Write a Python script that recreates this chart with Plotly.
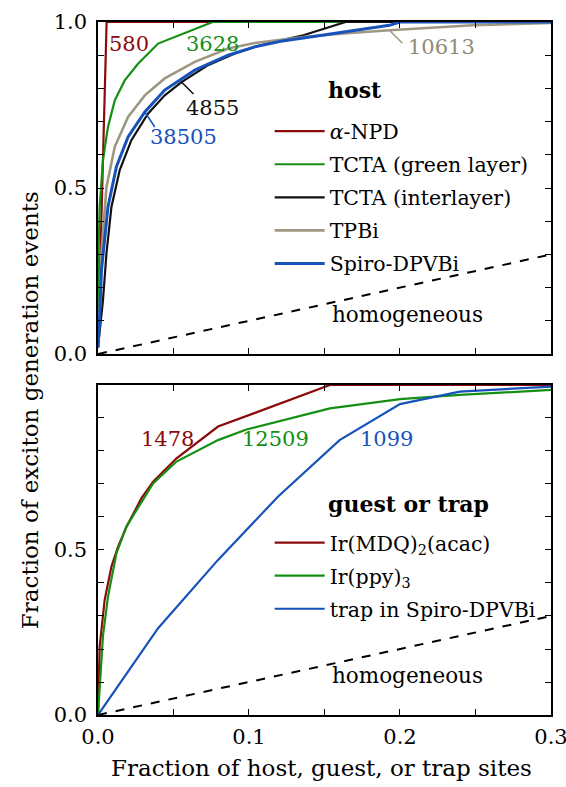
import plotly.graph_objects as go

# ---- host materials (upper panel) ----
npd_x = [0, 0.0057, 0.3]
npd_y = [0.02, 1.0, 1.0]

tcta_g_x = [0, 0.0003, 0.0011, 0.0033, 0.0066, 0.0111, 0.0177, 0.0265, 0.0398, 0.076, 0.3]
tcta_g_y = [0.02, 0.30, 0.443, 0.584, 0.684, 0.764, 0.824, 0.874, 0.935, 1.0, 1.0]

tcta_i_x = [0, 0.0015, 0.0033, 0.0056, 0.0089, 0.0144, 0.0221, 0.0331, 0.0442, 0.0553, 0.0729,
            0.0906, 0.1038, 0.121, 0.136, 0.164, 0.3]
tcta_i_y = [0.02, 0.08, 0.162, 0.303, 0.443, 0.554, 0.644, 0.724, 0.779, 0.819, 0.870,
            0.905, 0.925, 0.945, 0.960, 1.0, 1.0]

tpbi_x = [0, 0.001, 0.0023, 0.0056, 0.0111, 0.0199, 0.031, 0.0442, 0.0641, 0.0862, 0.1038,
          0.136, 0.165, 0.193, 0.248, 0.3]
tpbi_y = [0.02, 0.12, 0.303, 0.503, 0.624, 0.714, 0.779, 0.830, 0.880, 0.920, 0.937,
          0.955, 0.966, 0.975, 0.990, 0.997]

spiro_x = [0, 0.001, 0.0023, 0.0066, 0.0122, 0.0199, 0.031, 0.0442, 0.0641, 0.0862, 0.1038,
           0.121, 0.136, 0.165, 0.193, 0.2, 0.3]
spiro_y = [0.02, 0.10, 0.253, 0.443, 0.564, 0.654, 0.729, 0.795, 0.855, 0.900, 0.925,
           0.942, 0.952, 0.972, 0.990, 1.0, 1.0]

# ---- guests / traps (lower panel) ----
mdq_x = [0, 0.0011, 0.0044, 0.0089, 0.0133, 0.0188, 0.0288, 0.0365, 0.052, 0.0795, 0.1536, 0.3]
mdq_y = [0, 0.207, 0.348, 0.450, 0.510, 0.570, 0.657, 0.707, 0.778, 0.874, 1.0, 1.0]

ppy_x = [0, 0.0012, 0.0033, 0.0066, 0.0122, 0.0188, 0.0365, 0.052, 0.0795, 0.0983, 0.1536, 0.2, 0.2396, 0.3]
ppy_y = [0, 0.10, 0.24, 0.358, 0.490, 0.571, 0.702, 0.768, 0.833, 0.865, 0.929, 0.957, 0.970, 0.985]

trap_x = [0, 0.0398, 0.0795, 0.1193, 0.16, 0.2, 0.2396, 0.3]
trap_y = [0, 0.263, 0.470, 0.662, 0.833, 0.942, 0.980, 0.995]

homog_x = [0, 0.3]
homog_y = [0, 0.3]

x_ticks = [0, 0.1, 0.2, 0.3]
x_ticktext = ["0.0", "0.1", "0.2", "0.3"]

# site counts written next to the curves
host_counts = {"npd": "580", "tcta_g": "3628", "tcta_i": "4855", "tpbi": "10613", "spiro": "38505"}
guest_counts = {"mdq": "1478", "ppy": "12509", "trap": "1099"}

RED = "#8B0A0A"
GREEN = "#148F14"
BLACK = "#111111"
GRAY = "#9E9882"
BLUE = "#1652BA"

FONT = "DejaVu Serif"
LEG_SIZE = 20.5

fig = go.Figure()

host_series = [
    ("<i>α</i>-NPD", npd_x, npd_y, RED, 2.2),
    ("TCTA (green layer)", tcta_g_x, tcta_g_y, GREEN, 2.2),
    ("TCTA (interlayer)", tcta_i_x, tcta_i_y, BLACK, 2.2),
    ("TPBi", tpbi_x, tpbi_y, GRAY, 2.6),
    ("Spiro-DPVBi", spiro_x, spiro_y, BLUE, 3.0),
]
for k, (name, xs, ys, col, w) in enumerate(host_series):
    fig.add_trace(go.Scatter(x=xs, y=ys, mode="lines", name=name,
                             line=dict(color=col, width=w),
                             xaxis="x", yaxis="y", legend="legend",
                             legendgroup=f"h{k}", legendrank=k + 1))
fig.add_trace(go.Scatter(x=homog_x, y=homog_y, mode="lines", showlegend=False,
                         line=dict(color="black", width=2, dash="dash"),
                         xaxis="x", yaxis="y"))

guest_series = [
    ("Ir(MDQ)<sub>2</sub>(acac)", mdq_x, mdq_y, RED),
    ("Ir(ppy)<sub>3</sub>", ppy_x, ppy_y, GREEN),
    ("trap in Spiro-DPVBi", trap_x, trap_y, BLUE),
]
for k, (name, xs, ys, col) in enumerate(guest_series):
    fig.add_trace(go.Scatter(x=xs, y=ys, mode="lines", name=name,
                             line=dict(color=col, width=2.2),
                             xaxis="x2", yaxis="y2", legend="legend2",
                             legendgroup=f"g{k}", legendrank=k + 1))
fig.add_trace(go.Scatter(x=homog_x, y=homog_y, mode="lines", showlegend=False,
                         line=dict(color="black", width=2, dash="dash"),
                         xaxis="x2", yaxis="y2"))

XR = [0, 0.30001]
axis_common = dict(
    showline=True, linecolor="black", linewidth=1.5,
    mirror="allticks", ticks="inside", ticklen=6, tickwidth=1.2, tickcolor="black",
    showgrid=False, zeroline=False, ticklabeloverflow="allow",
    tickfont=dict(family=FONT, size=21, color="black"),
)
minor_x = dict(ticks="inside", tickmode="linear", tick0=0, dtick=0.05, ticklen=6,
               tickwidth=1.2, tickcolor="black")
minor_y = dict(ticks="inside", tickmode="linear", tick0=0, dtick=0.1, ticklen=6,
               tickwidth=1.2, tickcolor="black")

legend_common = dict(xanchor="left", yanchor="top", bgcolor="rgba(0,0,0,0)",
                     font=dict(family=FONT, size=LEG_SIZE, color="black"), itemwidth=50,
                     tracegroupgap=3.4, traceorder="grouped")

fig.update_layout(
    width=566, height=787,
    margin=dict(l=98, r=15, t=22, b=72, autoexpand=False),
    paper_bgcolor="white", plot_bgcolor="white",
    font=dict(family=FONT, color="black"),
    xaxis=dict(axis_common, range=XR, domain=[0, 1], anchor="y", tickmode="array",
               tickvals=x_ticks, showticklabels=False, minor=minor_x),
    yaxis=dict(axis_common, range=[0, 1.0], domain=[0.5209, 1.0], anchor="x",
               tickmode="array", tickvals=[0, 0.5, 1.0], ticktext=["0.0", "0.5", "1.0"],
               ticklabelstandoff=5, minor=minor_y),
    xaxis2=dict(axis_common, range=XR, domain=[0, 1], anchor="y2", tickmode="array",
                tickvals=x_ticks, ticktext=x_ticktext, ticklabelstandoff=2, minor=minor_x),
    yaxis2=dict(axis_common, range=[0, 1.0], domain=[0, 0.4762], anchor="x2",
                tickmode="array", tickvals=[0, 0.5, 1.0], ticktext=["0.0", "0.5", ""],
                ticklabelstandoff=5, minor=minor_y),
    legend=dict(legend_common, x=0.379, y=0.871),
    legend2=dict(legend_common, x=0.379, y=0.2773),
)

ann = []
# axis titles
ann.append(dict(text="Fraction of host, guest, or trap sites", xref="paper", yref="paper",
                x=0.494, y=-0.0765, xanchor="center", yanchor="middle", showarrow=False,
                font=dict(family=FONT, size=23)))
ann.append(dict(text="Fraction of exciton generation events", xref="paper", yref="paper",
                x=-0.150, y=0.44, xanchor="center", yanchor="middle", showarrow=False,
                textangle=-90, font=dict(family=FONT, size=23)))
# legend headings and the reference-line label
ann.append(dict(text="<b>host</b>", xref="x", yref="y", x=0.151, y=0.795, xanchor="left",
                yanchor="middle", showarrow=False, font=dict(family=FONT, size=22)))
ann.append(dict(text="homogeneous", xref="x", yref="y", x=0.1535, y=0.12, xanchor="left",
                yanchor="middle", showarrow=False, font=dict(family=FONT, size=21.5)))
ann.append(dict(text="<b>guest or trap</b>", xref="x2", yref="y2", x=0.151, y=0.64,
                xanchor="left", yanchor="middle", showarrow=False, font=dict(family=FONT, size=22)))
ann.append(dict(text="homogeneous", xref="x2", yref="y2", x=0.1535, y=0.12, xanchor="left",
                yanchor="middle", showarrow=False, font=dict(family=FONT, size=21.5)))

# site counts
count_pos_top = [("npd", 0.0208, 0.933, RED), ("tcta_g", 0.0757, 0.933, GREEN),
                 ("tcta_i", 0.076, 0.740, BLACK), ("spiro", 0.0568, 0.653, BLUE),
                 ("tpbi", 0.2276, 0.925, "#8F8A76")]
for key, x, y, col in count_pos_top:
    ann.append(dict(text=host_counts[key], xref="x", yref="y", x=x, y=y, showarrow=False,
                    xanchor="center", yanchor="middle", font=dict(family=FONT, size=21, color=col)))
count_pos_bot = [("mdq", 0.0459, 0.836, RED), ("ppy", 0.1176, 0.836, GREEN),
                 ("trap", 0.1911, 0.836, BLUE)]
for key, x, y, col in count_pos_bot:
    ann.append(dict(text=guest_counts[key], xref="x2", yref="y2", x=x, y=y, showarrow=False,
                    xanchor="center", yanchor="middle", font=dict(family=FONT, size=21, color=col)))
fig.update_layout(annotations=ann)

# short leader ticks joining a count to its curve
leaders = [(tcta_i_x[9], tcta_i_y[9], 12, -12, BLACK),
           (spiro_x[6], spiro_y[6], 10, -15, BLUE),
           (tpbi_x[13], tpbi_y[13], 13, -13, GRAY)]
for ax_, ay_, dx, dy, col in leaders:
    fig.add_shape(type="line", xref="x", yref="y", xsizemode="pixel", ysizemode="pixel",
                  xanchor=ax_, yanchor=ay_, x0=0, y0=0, x1=dx, y1=dy,
                  line=dict(color=col, width=1.5))

fig.write_html("out.html")
